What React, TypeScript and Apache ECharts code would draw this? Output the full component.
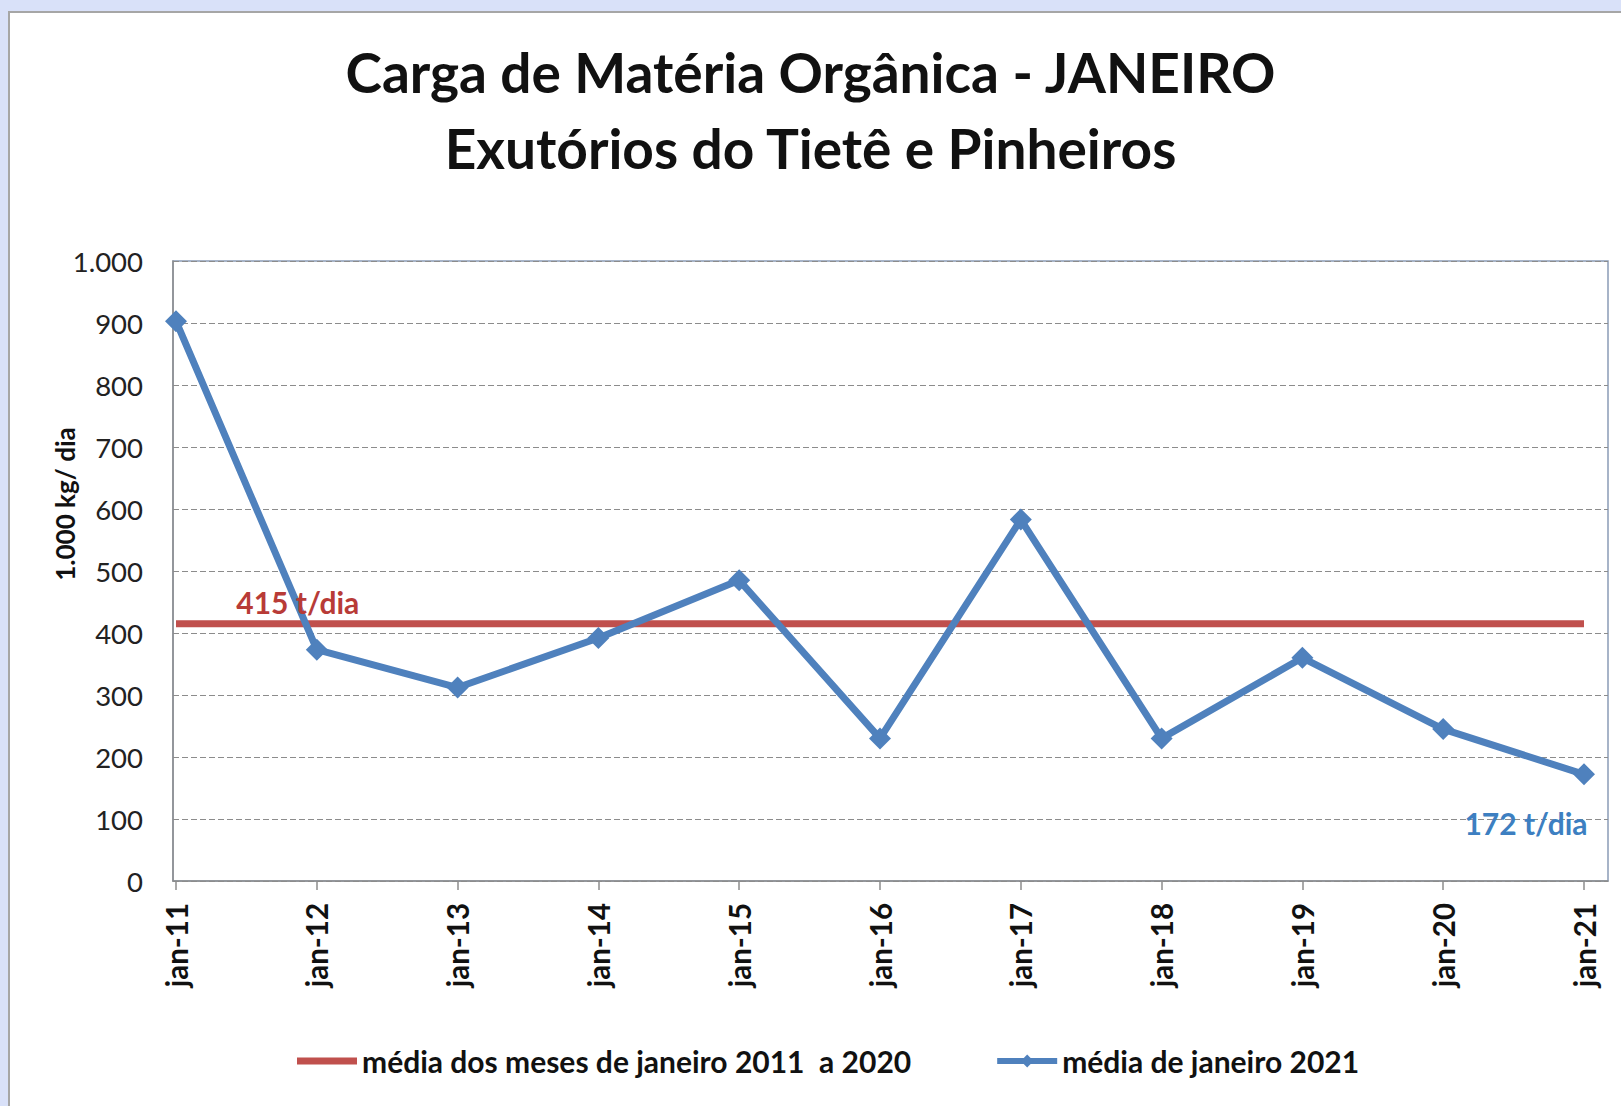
import React, { useEffect, useRef } from "react";
import * as echarts from "echarts";

const categories = ["jan-11", "jan-12", "jan-13", "jan-14", "jan-15", "jan-16", "jan-17", "jan-18", "jan-19", "jan-20", "jan-21"];
const january2021Values = [903, 373, 312, 392, 485, 230, 583, 230, 360, 245, 172];
const averageValue = 415;
const averageValues = categories.map(() => averageValue);
const yMin = 0;
const yMax = 1000;
const yInterval = 100;

const titleLines = ["Carga de Matéria Orgânica - JANEIRO", "Exutórios do Tietê e Pinheiros"];
const yAxisTitle = "1.000 kg/ dia";
const legendNames = ["média dos meses de janeiro 2011  a 2020", "média de janeiro 2021"];

const FONT = "Lato";
const RED = "#C0504D";
const BLUE = "#4F81BD";

const fmt = (v: number) => String(v).replace(/\B(?=(\d{3})+(?!\d))/g, ".");

export default function App() {
  const ref = useRef<HTMLDivElement>(null);
  useEffect(() => {
    if (!ref.current) return;
    const chart = echarts.init(ref.current, undefined, { renderer: "svg" });
    const lastIdx = january2021Values.length - 1;
    chart.setOption({
      animation: false,
      backgroundColor: "#d9e1f9",
      textStyle: { fontFamily: FONT },
      title: {
        text: titleLines.join("\n"),
        left: "center",
        top: 29,
        textStyle: { fontFamily: FONT, fontWeight: "bold", fontSize: 55, lineHeight: 76, color: "#111" },
      },
      graphic: [
        {
          type: "rect",
          z: -100,
          shape: { x: 9, y: 12, width: 1640, height: 1120 },
          style: { fill: "#ffffff", stroke: "#a6a6a6", lineWidth: 2 },
        },
        {
          type: "text",
          x: 65,
          y: 504,
          rotation: Math.PI / 2,
          style: {
            text: yAxisTitle,
            fontFamily: FONT,
            fontWeight: "bold",
            fontSize: 26,
            fill: "#111",
            align: "center",
            verticalAlign: "middle",
          },
        },
      ],
      legend: {
        left: 292,
        top: 1041,
        itemWidth: 60,
        itemHeight: 16,
        itemGap: 83,
        lineStyle: { width: 6 },
        textStyle: { fontFamily: FONT, fontWeight: "bold", fontSize: 30, color: "#111" },
        data: [{ name: legendNames[0], icon: "path://M0 0H60V7H0Z" }, legendNames[1]],
      },
      grid: [
        { left: 173, top: 261, width: 1435, height: 620, show: true, borderColor: "#8a9cb6", borderWidth: 1.5 },
        { left: 176, top: 261, width: 1408, height: 620 },
      ],
      xAxis: [
        {
          type: "value",
          gridIndex: 0,
          min: 0,
          max: 1,
          axisLine: { show: true, lineStyle: { color: "#8c8c8c", width: 1.5 } },
          axisTick: { show: false },
          axisLabel: { show: false },
          splitLine: { show: false },
        },
        {
          type: "category",
          gridIndex: 1,
          boundaryGap: false,
          data: categories,
          axisLine: { show: false },
          axisTick: { show: true, length: 9, lineStyle: { color: "#8c8c8c", width: 1.5 } },
          axisLabel: {
            rotate: 90,
            margin: 22,
            fontFamily: FONT,
            fontWeight: "bold",
            fontSize: 29.5,
            color: "#111",
          },
          splitLine: { show: false },
        },
      ],
      yAxis: [
        {
          type: "value",
          gridIndex: 0,
          min: yMin,
          max: yMax,
          interval: yInterval,
          axisLine: { show: true, lineStyle: { color: "#8c8c8c", width: 1.5 } },
          axisTick: { show: false },
          axisLabel: { margin: 30, fontFamily: FONT, fontSize: 27.5, color: "#222", formatter: (v: number) => fmt(v) },
          splitLine: { show: true, lineStyle: { color: "#8c8c8c", type: [6, 3], width: 1.2 } },
        },
        {
          type: "value",
          gridIndex: 1,
          min: yMin,
          max: yMax,
          interval: yInterval,
          show: false,
          splitLine: { show: false },
        },
      ],
      series: [
        {
          name: legendNames[0],
          type: "line",
          xAxisIndex: 1,
          yAxisIndex: 1,
          symbol: "none",
          color: RED,
          lineStyle: { color: RED, width: 7 },
          data: averageValues,
          markPoint: {
            symbol: "circle",
            symbolSize: 1,
            itemStyle: { color: "rgba(0,0,0,0)" },
            label: {
              show: true,
              position: "top",
              distance: 6,
              offset: [-19, 0],
              formatter: () => `${averageValue} t/dia`,
              fontFamily: FONT,
              fontWeight: "bold",
              fontSize: 30,
              color: "#B83B37",
            },
            data: [{ coord: [categories[1], averageValue] }],
          },
          z: 2,
        },
        {
          name: legendNames[1],
          type: "line",
          xAxisIndex: 1,
          yAxisIndex: 1,
          symbol: "diamond",
          symbolSize: 22,
          color: BLUE,
          lineStyle: { color: BLUE, width: 7 },
          itemStyle: { color: BLUE },
          data: january2021Values.map((v, i) =>
            i === lastIdx
              ? {
                  value: v,
                  label: {
                    show: true,
                    position: "bottom",
                    distance: 5,
                    offset: [-58, 18],
                    formatter: () => `${v} t/dia`,
                    fontFamily: FONT,
                    fontWeight: "bold",
                    fontSize: 30,
                    color: "#3D7FC1",
                  },
                }
              : v
          ),
          z: 3,
        },
      ],
    });
    return () => chart.dispose();
  }, []);
  return <div ref={ref} style={{ position: "absolute", left: 0, top: 0, width: 1621, height: 1106 }} />;
}
